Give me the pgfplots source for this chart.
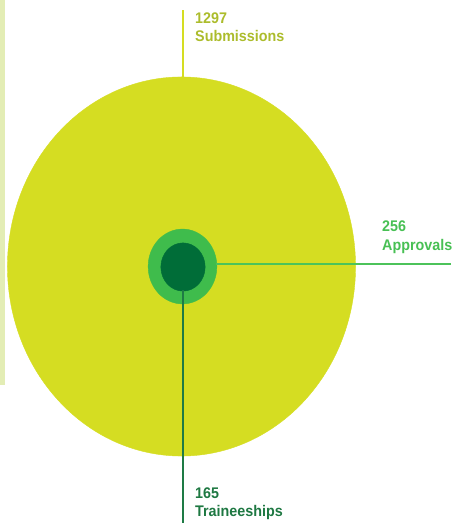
\documentclass[border=0pt]{standalone}
\usepackage{fontspec}
\usepackage{pgfplots}
\pgfplotsset{compat=1.18}
\newfontfamily\lab{Liberation Sans}[FakeStretch=0.93]

\definecolor{subm}{RGB}{213,221,34}
\definecolor{apprv}{RGB}{63,188,76}
\definecolor{train}{RGB}{0,109,56}
\definecolor{subtxt}{RGB}{172,188,44}
\definecolor{apptxt}{RGB}{72,192,84}
\definecolor{trtxt}{RGB}{30,120,66}
\definecolor{apline}{RGB}{76,195,90}
\definecolor{trline}{RGB}{30,123,69}
\definecolor{stripe}{RGB}{227,237,181}

% radius of each disc is proportional to its count
\def\rs{0.1342}

\tikzset{lbl/.style={anchor=base west, inner sep=0pt,
    font=\lab\bfseries\fontsize{15.4}{18}\selectfont}}

\begin{document}
\begin{tikzpicture}
\begin{axis}[
    name=ax,
    width=451pt, height=528pt,
    scale only axis,
    xmin=0, xmax=451,
    ymin=0, ymax=528,
    y dir=reverse,
    hide axis,
    clip=false,
    set layers,
  ]
  % left stripe
  \addplot[fill=stripe, draw=none] coordinates {(0,0) (5,0) (5,385) (0,385)};

  % discs
  \addplot[subm, only marks, mark=*, mark size={1297*\rs},
    mark options={yscale=1.089}] coordinates {(181.5,266.5)};
  \addplot[apprv, only marks, mark=*, mark size={256*\rs},
    mark options={yscale=1.089}] coordinates {(182.5,266.5)};
  \addplot[train, only marks, mark=*, mark size={165*\rs},
    mark options={yscale=1.089}] coordinates {(183,267)};

  % leader lines
  \addplot[subm, line width=2pt, on layer=axis foreground] coordinates {(183,10.5) (183,78)};
  \addplot[apline, line width=2pt, on layer=axis foreground] coordinates {(216,264) (451,264)};
  \addplot[trline, line width=2pt, on layer=axis foreground] coordinates {(183,290) (183,523)};

  \node[lbl, text=subtxt] at (axis cs:195,24) {1297};
  \node[lbl, text=subtxt] at (axis cs:195,42) {Submissions};
  \node[lbl, text=apptxt] at (axis cs:382,232) {256};
  \node[lbl, text=apptxt] at (axis cs:382,251) {Approvals};
  \node[lbl, text=trtxt] at (axis cs:195,499) {165};
  \node[lbl, text=trtxt] at (axis cs:195,517) {Traineeships};
\end{axis}
\pgfresetboundingbox
\path (ax.south west) rectangle (ax.north east);
\end{tikzpicture}
\end{document}
